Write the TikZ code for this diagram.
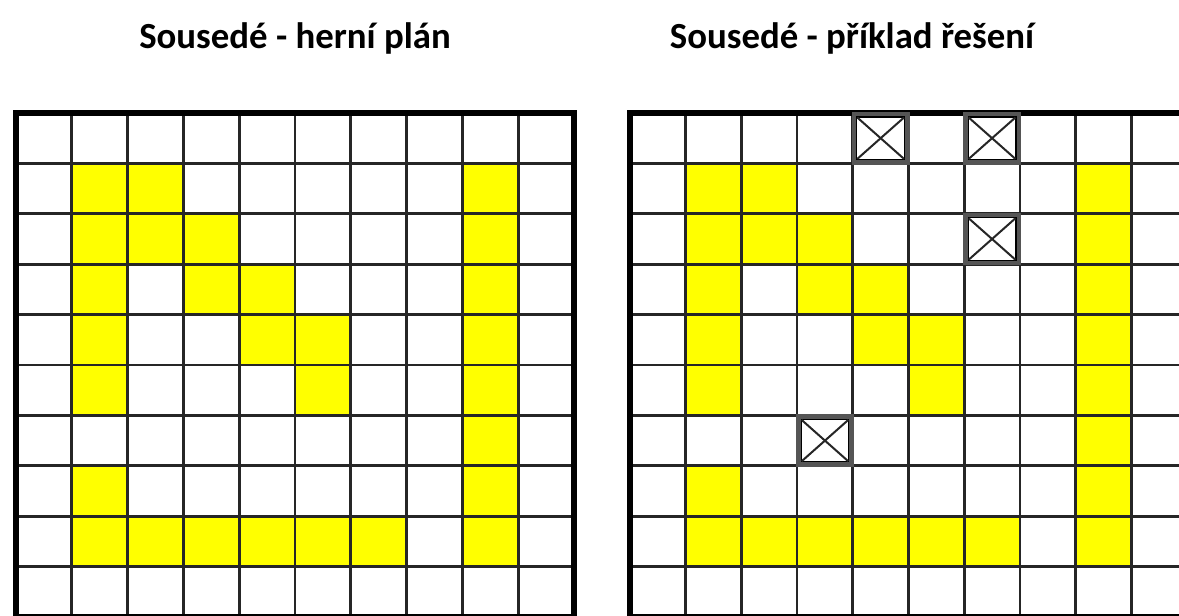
\documentclass[tikz,border=0pt]{standalone}
\usepackage{fontspec}
\setmainfont{Carlito}
\definecolor{cellyellow}{RGB}{255,255,0}
\definecolor{framegray}{RGB}{85,85,85}
\begin{document}
\begin{tikzpicture}[x=0.75pt,y=-0.75pt,
  title/.style={font=\bfseries\fontsize{27.6}{32}\selectfont, inner sep=0pt, anchor=base},
  gridline/.style={line width=2pt, black!85},
  border/.style={line width=4.2pt, black},
  yel/.style={fill=cellyellow},
  xframe/.style={line width=4pt, framegray},
  xcross/.style={line width=1.5pt, black!85}]
\useasboundingbox (0,0) rectangle (1179,615);
\fill[white] (0,0) rectangle (1179,615);
\clip (0,0) rectangle (1179,615);

\node[title] (t1) at (295,48) {Sousedé - herní plán};
\node[title] (t2) at (852,48) {Sousedé - příklad řešení};

\def\dy{50.4}
\def\cells{1/1,2/1,8/1, 1/2,2/2,3/2,8/2, 1/3,3/3,4/3,8/3, 1/4,4/4,5/4,8/4, 1/5,5/5,8/5, 8/6, 1/7,8/7, 1/8,2/8,3/8,4/8,5/8,6/8,8/8}

\foreach \gx/\dx in {16/55.8, 630/55.7} {
  \foreach \c/\r in \cells {
    \fill[yel] ({\gx+\c*\dx},{113+\r*\dy}) rectangle ++(\dx,\dy);
  }
  \foreach \i in {1,...,9} {
    \draw[gridline] ({\gx+\i*\dx},113) -- ({\gx+\i*\dx},617);
    \draw[gridline] (\gx,{113+\i*\dy}) -- ({\gx+10*\dx},{113+\i*\dy});
  }
  \draw[border] (\gx,113) rectangle ({\gx+10*\dx},617);
}

% crossed cells in the solution
\foreach \c/\r in {4/0, 6/0, 6/2, 3/6} {
  \pgfmathsetmacro\xa{630+\c*55.7}
  \pgfmathsetmacro\ya{113+\r*50.4}
  \draw[xframe] ({\xa+1.5},{\ya+1.5}) rectangle ({\xa+55.7-1.5},{\ya+50.4-1.5});
  \fill[white] ({\xa+4.5},{\ya+4.5}) rectangle ({\xa+55.7-4.5},{\ya+50.4-4.5});
  \draw[line width=0.9pt, black] ({\xa+4},{\ya+4}) rectangle ({\xa+55.7-4},{\ya+50.4-4});
  \draw[xcross] ({\xa+4.5},{\ya+4.5}) -- ({\xa+55.7-4.5},{\ya+50.4-4.5});
  \draw[xcross] ({\xa+55.7-4.5},{\ya+4.5}) -- ({\xa+4.5},{\ya+50.4-4.5});
}
\end{tikzpicture}
\end{document}
